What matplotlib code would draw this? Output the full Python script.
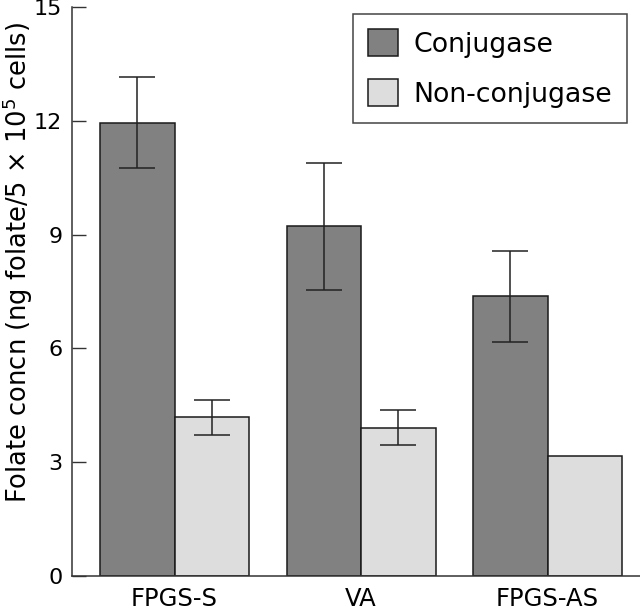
import matplotlib
matplotlib.use("Agg")
import matplotlib.pyplot as plt
import numpy as np

CELL_LINES = ["FPGS-S", "VA", "FPGS-AS"]
CONJUGASE = [11.95, 9.22, 7.38]
CONJUGASE_ERR = [1.2, 1.68, 1.2]
NON_CONJUGASE = [4.18, 3.91, 3.16]
NON_CONJUGASE_ERR = [0.45, 0.46, 0.0]
Y_TICKS = [0, 3, 6, 9, 12, 15]

DARK = "#818181"
LIGHT = "#dddddd"
EDGE = "#1a1a1a"

plt.rcParams["font.family"] = ["DejaVu Sans"]

fig = plt.figure(figsize=(6.4, 6.15), dpi=100)
ax = fig.add_axes([72 / 640, 39 / 615, 568 / 640, 568.8 / 615])

x = np.arange(len(CELL_LINES))
width = 0.4
err_style = dict(ecolor="#222222", elinewidth=1.1, capsize=13, capthick=1.1)

ax.bar(x - width / 2, CONJUGASE, width, color=DARK, edgecolor=EDGE, linewidth=1.1,
       label="Conjugase", zorder=2)
ax.bar(x + width / 2, NON_CONJUGASE, width, color=LIGHT, edgecolor=EDGE, linewidth=1.1,
       label="Non-conjugase", zorder=2)

ax.errorbar(x - width / 2, CONJUGASE, yerr=CONJUGASE_ERR, fmt="none", zorder=3, **err_style)
has_err = [i for i, e in enumerate(NON_CONJUGASE_ERR) if e > 0]
ax.errorbar(x[has_err] + width / 2, [NON_CONJUGASE[i] for i in has_err],
            yerr=[NON_CONJUGASE_ERR[i] for i in has_err], fmt="none", zorder=3, **err_style)

ax.set_xlim(-0.55, 2.495)
ax.set_ylim(0, 15)
ax.set_yticks(Y_TICKS)
ax.set_xticks(x)
ax.set_xticklabels(CELL_LINES, fontsize=17.5)
ax.tick_params(axis="x", length=0, pad=8)
ax.tick_params(axis="y", direction="in", length=10, width=1.0, pad=7, labelsize=16,
               color="#333333")

for side in ("top", "right"):
    ax.spines[side].set_visible(False)
for side in ("left", "bottom"):
    ax.spines[side].set_color("#333333")
    ax.spines[side].set_linewidth(1.1)

ax.set_ylabel("Folate concn (ng folate/5 $\\times$ 10$^5$ cells)", fontsize=18.5)
ax.yaxis.set_label_coords((18 - 72) / 568, 0.551)
ax.yaxis.label.set_verticalalignment("center")

leg = ax.legend(loc="upper right", bbox_to_anchor=(627 / 640, 1 - 14 / 615),
                bbox_transform=fig.transFigure, borderaxespad=0, fontsize=19.3,
                handlelength=1.12, handleheight=1.2, handletextpad=0.6,
                labelspacing=0.8, borderpad=0.55, fancybox=False, framealpha=1)
leg.get_frame().set_edgecolor("#444444")
leg.get_frame().set_linewidth(1.1)

fig.savefig("out.png", dpi=100, facecolor="white")
